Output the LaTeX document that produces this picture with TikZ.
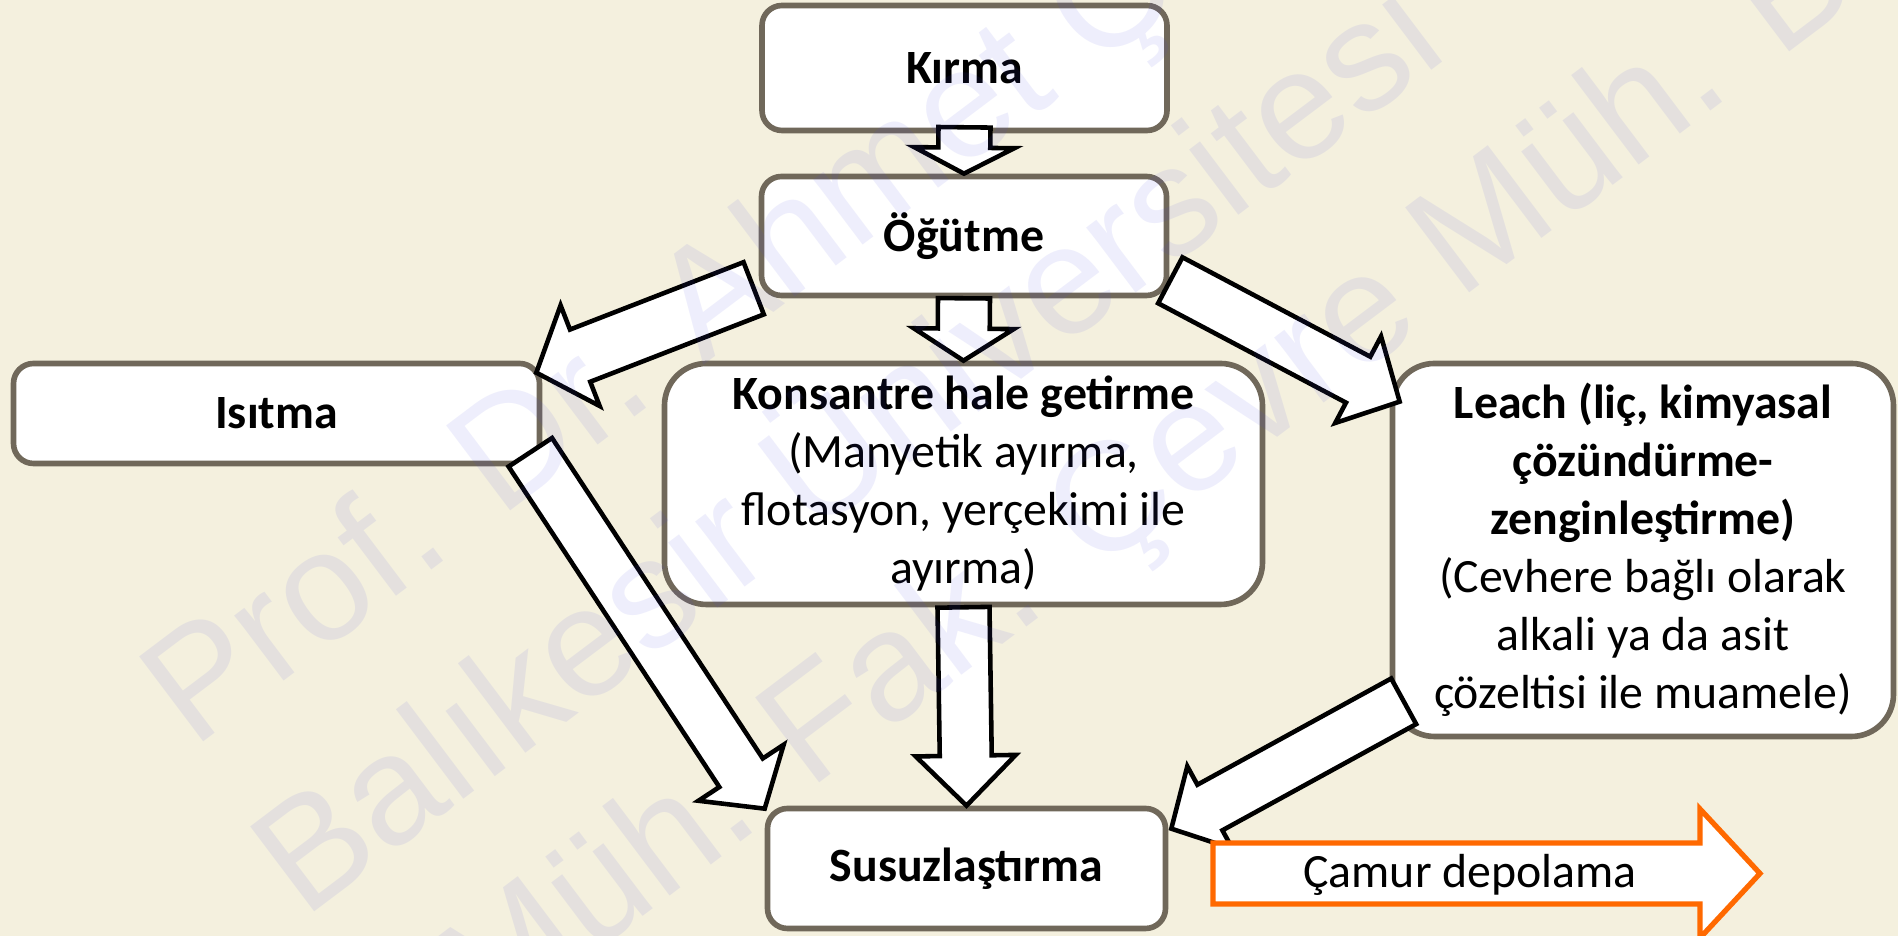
\documentclass[tikz,border=0pt]{standalone}
\usepackage{fontspec}
\setmainfont{Carlito}
\newfontfamily\wmfont{Liberation Sans}
\usetikzlibrary{calc}

\definecolor{parchment}{RGB}{244,240,222}
\definecolor{boxline}{RGB}{112,104,90}
\definecolor{wmblue}{RGB}{70,70,225}
\definecolor{sludge}{RGB}{255,105,0}

\tikzset{
  stepbox/.style={draw=boxline, line width=1.6pt, fill=white, rounded corners=0.2cm,
    align=center, inner sep=0pt, font=\fontsize{13.6}{16.5}\selectfont},
  bigbox/.style={stepbox, rounded corners=0.42cm},
  arrowbody/.style={draw=black, line width=1.3pt, fill=white, line join=miter},
  wmark/.style={text=wmblue, text opacity=0.09, rotate=37, anchor=base west,
    inner sep=0pt, font=\wmfont\fontsize{44}{53}\selectfont}
}

\newcommand{\flowarrow}[5]{%
  \coordinate (ah) at ($(#2)!#5!(#1)$);
  \draw[arrowbody] ($(#1)!#3!90:(#2)$) -- ($(ah)!#3!90:(#2)$) -- ($(ah)!#4!90:(#2)$) -- (#2)
    -- ($(ah)!#4!-90:(#2)$) -- ($(ah)!#3!-90:(#2)$) -- ($(#1)!#3!-90:(#2)$) -- cycle;
}

\begin{document}
\begin{tikzpicture}

\clip (0,0) rectangle (18.98,9.36);
\fill[parchment] (0,0) rectangle (18.98,9.36);

\node[stepbox, minimum width=4.05cm, minimum height=1.25cm] (kirma) at (9.645,8.68) {\textbf{Kırma}};

\node[stepbox, minimum width=4.05cm, minimum height=1.19cm] (ogutme) at (9.64,7.00) {\textbf{Öğütme}};

\node[stepbox, minimum width=5.26cm, minimum height=1.00cm] (isitma) at (2.765,5.225) {\textbf{Isıtma}};

\node[bigbox, minimum width=5.98cm, minimum height=2.41cm] (konsantre) at (9.635,4.52)
{\textbf{Konsantre hale getirme}\\(Manyetik ayırma,\\flotasyon, yerçekimi ile\\ayırma)};

\node[bigbox, minimum width=5.01cm, minimum height=3.73cm] (leach) at (16.43,3.86)
{\textbf{Leach (liç, kimyasal}\\\textbf{çözündürme-}\\\textbf{zenginleştirme)}\\(Cevhere bağlı olarak\\alkali ya da asit\\çözeltisi ile muamele)};

\node[stepbox, minimum width=3.98cm, minimum height=1.20cm] (susuz) at (9.665,0.675) {\textbf{Susuzlaştırma}};

\coordinate (a1s) at ($(kirma.south)+(0,0.06)$);
\flowarrow{a1s}{ogutme.north}{0.26cm}{0.50cm}{0.26cm}

\flowarrow{ogutme.south}{konsantre.north}{0.26cm}{0.50cm}{0.32cm}

\flowarrow{konsantre.south}{susuz.north}{0.26cm}{0.50cm}{0.50cm}

\coordinate (a4s) at ($(ogutme.south west)+(-0.05,0.10)$);
\coordinate (a4e) at ($(isitma.north east)+(-0.06,-0.12)$);
\flowarrow{a4s}{a4e}{0.28cm}{0.54cm}{0.47cm}

\coordinate (a5s) at ($(ogutme.south east)+(0.01,0.18)$);
\coordinate (a5e) at ($(leach.north west)+(0.10,-0.41)$);
\flowarrow{a5s}{a5e}{0.26cm}{0.49cm}{0.47cm}

\coordinate (a6s) at ($(isitma.south east)+(-0.12,0.14)$);
\coordinate (a6e) at ($(susuz.north west)+(0,-0.03)$);
\flowarrow{a6s}{a6e}{0.26cm}{0.51cm}{0.43cm}

\coordinate (a7s) at ($(leach.south west)+(0.14,0.38)$);
\coordinate (a7e) at ($(susuz.north east)+(0.03,-0.23)$);
\flowarrow{a7s}{a7e}{0.26cm}{0.47cm}{0.44cm}

\draw[sludge, line width=1.5pt, fill=white, line join=miter]
  (12.13,0.93) -- (17.00,0.93) -- (17.00,1.27) -- (17.60,0.625)
  -- (17.00,-0.02) -- (17.00,0.32) -- (12.13,0.32) -- cycle;
\node[font=\fontsize{13.6}{16.5}\selectfont] (camur) at (14.70,0.61) {Çamur depolama};

\node[wmark] (wm1) at (1.93,1.86) {Prof. Dr. Ahmet Ç};
\node[wmark] (wm2) at (3.04,0.16) {Balıkesir Üniversitesi};
\node[wmark] (wm3) at (4.89,-0.96) {Müh. Fak. Çevre Müh. Bö};

\end{tikzpicture}
\end{document}
